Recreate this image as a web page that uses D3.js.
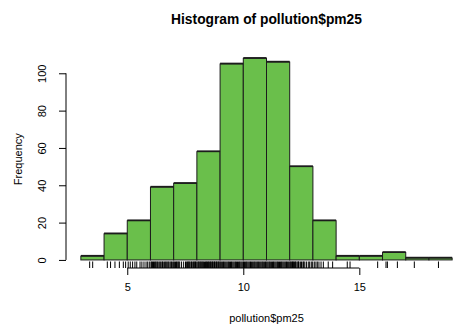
<!DOCTYPE html>
<html>
<head>
<meta charset="utf-8">
<script src="https://cdn.jsdelivr.net/npm/d3@7"></script>
<style>
  html, body { margin: 0; padding: 0; background: #fff; }
  svg { display: block; font-family: "Liberation Sans", Arial, Helvetica, sans-serif; }
</style>
</head>
<body>
<svg id="chart" width="456" height="335"></svg>
<script>
// Histogram bins of pm25 (unit-wide breaks) and their counts
const binStarts = [3, 4, 5, 6, 7, 8, 9, 10, 11, 12, 13, 14, 15, 16, 17, 18];
const binEnds   = [4, 5, 6, 7, 8, 9, 10, 11, 12, 13, 14, 15, 16, 17, 18, 19];
const counts    = [2, 14, 21, 39, 41, 58, 105, 108, 106, 50, 21, 2, 2, 4, 1, 1];

// Axis ticks
const xTicks = [5, 10, 15];
const yTicks = [0, 20, 40, 60, 80, 100];

// Individual observations shown as a rug under the bars
const rugValues = [
  3.38, 3.51,
  4.14, 4.28, 4.47, 4.66, 4.83, 4.93,
  5.04, 5.13, 5.23, 5.33, 5.41, 5.55, 5.63, 5.72, 5.81, 5.88, 5.95,
  6.02, 6.05, 6.09, 6.13, 6.17, 6.21, 6.24, 6.28, 6.31, 6.36, 6.40, 6.44, 6.49, 6.52, 6.55, 6.61,
  6.64, 6.68, 6.72, 6.76, 6.79, 6.84, 6.88, 6.91, 6.96,
  7.00, 7.03, 7.08, 7.12, 7.15, 7.19, 7.22, 7.26, 7.34, 7.43, 7.51, 7.56, 7.60, 7.63, 7.66, 7.69,
  7.74, 7.77, 7.80, 7.85, 7.88, 7.91, 7.94, 7.97,
  8.01, 8.05, 8.08, 8.10, 8.14, 8.17, 8.19, 8.23, 8.26, 8.28, 8.33, 8.37, 8.40, 8.42, 8.46, 8.49,
  8.51, 8.55, 8.58, 8.60, 8.64, 8.67, 8.69, 8.73, 8.76, 8.78, 8.82, 8.85, 8.87, 8.91, 8.94, 8.96,
  9.00, 9.03, 9.07, 9.11, 9.15, 9.18, 9.22, 9.26, 9.30, 9.34, 9.37, 9.41, 9.45, 9.49, 9.52, 9.56,
  9.60, 9.64, 9.67, 9.71, 9.75, 9.79, 9.83, 9.86, 9.90, 9.94, 9.98,
  10.01, 10.05, 10.09, 10.13, 10.16, 10.20, 10.24, 10.28, 10.31, 10.35, 10.39, 10.43, 10.47, 10.50,
  10.54, 10.58, 10.62, 10.65, 10.69, 10.73, 10.77, 10.81, 10.84, 10.88, 10.92, 10.96, 10.99,
  11.03, 11.07, 11.11, 11.14, 11.18, 11.22, 11.26, 11.30, 11.33, 11.37, 11.41, 11.45, 11.48, 11.52,
  11.56, 11.60, 11.64, 11.67, 11.71, 11.75, 11.79, 11.83, 11.86, 11.90, 11.94, 11.98,
  12.02, 12.05, 12.07, 12.12, 12.14, 12.16, 12.21, 12.24, 12.26, 12.31, 12.35, 12.38, 12.40, 12.46,
  12.51, 12.57, 12.60, 12.65, 12.72, 12.80, 12.86, 12.93,
  12.99, 13.06, 13.13, 13.19, 13.26, 13.35, 13.45, 13.66, 13.85,
  14.48, 14.60, 15.79, 16.15, 16.21, 16.64, 17.37, 18.41
];

const svg = d3.select("#chart");

// Plot region with the usual 4% padding around the data range
const xMin = d3.min(binStarts), xMax = d3.max(binEnds);
const yMax = d3.max(counts);
const xPad = (xMax - xMin) * 0.04, yPad = yMax * 0.04;

const plot = { left: 66, right: 467, top: 50.3, bottom: 268 };

const x = d3.scaleLinear()
  .domain([xMin - xPad, xMax + xPad])
  .range([plot.left, plot.right]);

const y = d3.scaleLinear()
  .domain([-yPad, yMax + yPad])
  .range([plot.bottom, plot.top]);

const bins = binStarts.map((s, i) => ({ x0: s, x1: binEnds[i], n: counts[i] }));

// Bars
const gBars = svg.append("g");
gBars.selectAll("rect")
  .data(bins)
  .join("rect")
  .attr("x", d => x(d.x0))
  .attr("y", d => y(d.n))
  .attr("width", d => x(d.x1) - x(d.x0))
  .attr("height", d => y(0) - y(d.n))
  .attr("fill", "#6abf4b")
  .attr("stroke", "#1c1c1c")
  .attr("stroke-width", 1);

// Heavier cap on each bar top
gBars.selectAll("line.cap")
  .data(bins)
  .join("line")
  .attr("class", "cap")
  .attr("x1", d => x(d.x0))
  .attr("x2", d => x(d.x1))
  .attr("y1", d => y(d.n) - 0.5)
  .attr("y2", d => y(d.n) - 0.5)
  .attr("stroke", "#1c1c1c")
  .attr("stroke-width", 1.6);

// Rug ticks rising from the bottom edge of the plot region
const rugLen = (plot.bottom - plot.top) * 0.03;
svg.append("g")
  .selectAll("line")
  .data(rugValues)
  .join("line")
  .attr("x1", d => x(d))
  .attr("x2", d => x(d))
  .attr("y1", plot.bottom)
  .attr("y2", plot.bottom - rugLen)
  .attr("stroke", "#000")
  .attr("stroke-opacity", 1)
  .attr("stroke-width", 1);

// x axis: line spans first to last tick
const xAxis = d3.axisBottom(x)
  .tickValues(xTicks)
  .tickSize(7)
  .tickPadding(8)
  .tickFormat(d3.format("d"));

const gx = svg.append("g")
  .attr("transform", `translate(0,${plot.bottom})`)
  .call(xAxis);
gx.select(".domain").remove();
gx.append("line")
  .attr("x1", x(xTicks[0]))
  .attr("x2", x(xTicks[xTicks.length - 1]))
  .attr("stroke", "#000");
gx.selectAll(".tick line").attr("stroke", "#000");
gx.selectAll("text")
  .attr("font-family", "Liberation Sans, Arial, sans-serif")
  .attr("font-size", 11)
  .attr("fill", "#000");

// y axis: labels turned parallel to the axis
const yAxis = d3.axisLeft(y)
  .tickValues(yTicks)
  .tickSize(7)
  .tickFormat(d3.format("d"));

const gy = svg.append("g")
  .attr("transform", `translate(${plot.left},0)`)
  .call(yAxis);
gy.select(".domain").remove();
gy.append("line")
  .attr("y1", y(yTicks[0]))
  .attr("y2", y(yTicks[yTicks.length - 1]))
  .attr("stroke", "#000");
gy.selectAll(".tick line").attr("stroke", "#000");
gy.selectAll("text")
  .attr("x", null)
  .attr("dy", null)
  .attr("transform", "translate(-20,0) rotate(-90)")
  .attr("text-anchor", "middle")
  .attr("font-family", "Liberation Sans, Arial, sans-serif")
  .attr("font-size", 11)
  .attr("fill", "#000");

// Titles
const midX = (plot.left + plot.right) / 2;
svg.append("text")
  .attr("x", midX)
  .attr("y", 24)
  .attr("text-anchor", "middle")
  .attr("font-weight", "bold")
  .attr("font-size", 13.8)
  .text("Histogram of pollution$pm25");

svg.append("text")
  .attr("x", midX)
  .attr("y", 322)
  .attr("text-anchor", "middle")
  .attr("font-size", 11)
  .text("pollution$pm25");

svg.append("text")
  .attr("transform", `translate(22,${(plot.top + plot.bottom) / 2}) rotate(-90)`)
  .attr("text-anchor", "middle")
  .attr("font-size", 11)
  .text("Frequency");
</script>
</body>
</html>
